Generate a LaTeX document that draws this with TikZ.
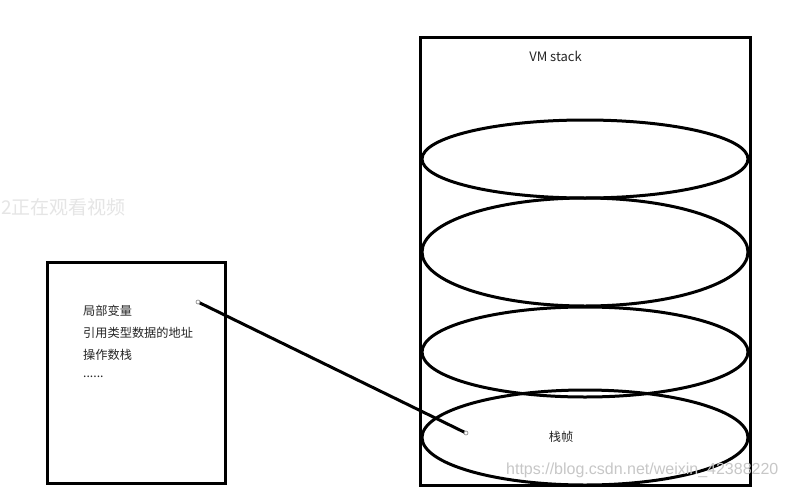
\documentclass[tikz,border=0pt]{standalone}
\usepackage{fontspec}
\setmainfont{Noto Sans CJK SC}
\newfontfamily\markfont{Liberation Sans}
\usetikzlibrary{shapes.geometric}
\tikzstyle{frame}=[draw,line width=3pt,inner sep=0pt]
\tikzstyle{frameellipse}=[ellipse,draw,line width=3pt,minimum width=326pt,inner sep=0pt]
\tikzstyle{link}=[draw,line width=3pt]
\tikzstyle{linkend}=[circle,fill=white,draw=gray,line width=0.6pt,minimum size=4pt,inner sep=0pt]
\tikzstyle{label}=[font=\fontsize{12.2}{14}\selectfont,text=black!85,inner sep=0pt]
\tikzstyle{watermark}=[inner sep=0pt,text=black!22]

\begin{document}
\begin{tikzpicture}[x=1pt,y=-1pt]
    \useasboundingbox[fill=white] (0,0) rectangle (787,490);

    % watermarks of the screenshot
    \node[watermark,font=\fontsize{19}{20}\selectfont,text=black!10,anchor=west] (wm1) at (1,207) {2正在观看视频};

    % VM stack and its frames
    \node[frame,minimum width=329.5pt,minimum height=447.5pt] (stack) at (585.25,261.25) {};
    \node[label,font=\fontsize{13}{15}\selectfont] (stacktitle) at (555.5,56) {VM stack};

    \foreach \y/\ry/\name in {159/39/f1, 252/54/f2, 352/45/f3, 437.5/47.5/f4}
        \node[frameellipse,minimum height=2*\ry] (\name) at (585,\y) {};

    \node[label] (frametext) at (561,437) {栈帧};

    % contents of one frame
    \node[frame,minimum width=178pt,minimum height=221pt] (detail) at (136,372.5) {};
    \foreach \y/\name/\txt in {311/l1/局部变量, 333/l2/引用类型数据的地址, 355/l3/操作数栈}
        \node[label,anchor=west] (\name) at (83,\y) {\txt};
    \node[label,anchor=west] (l4) at (83,377) {......};

    % connector
    \coordinate (src) at (198,302);
    \coordinate (dst) at (466,433);
    \path[link] (src) -- (dst);
    \node[linkend] (srcend) at (src) {};
    \node[linkend] (dstend) at (dst) {};

    \node[watermark,font=\markfont\fontsize{16}{18}\selectfont,anchor=west] (wm2) at (506,470) {https://blog.csdn.net/weixin\_42388220};
\end{tikzpicture}
\end{document}
